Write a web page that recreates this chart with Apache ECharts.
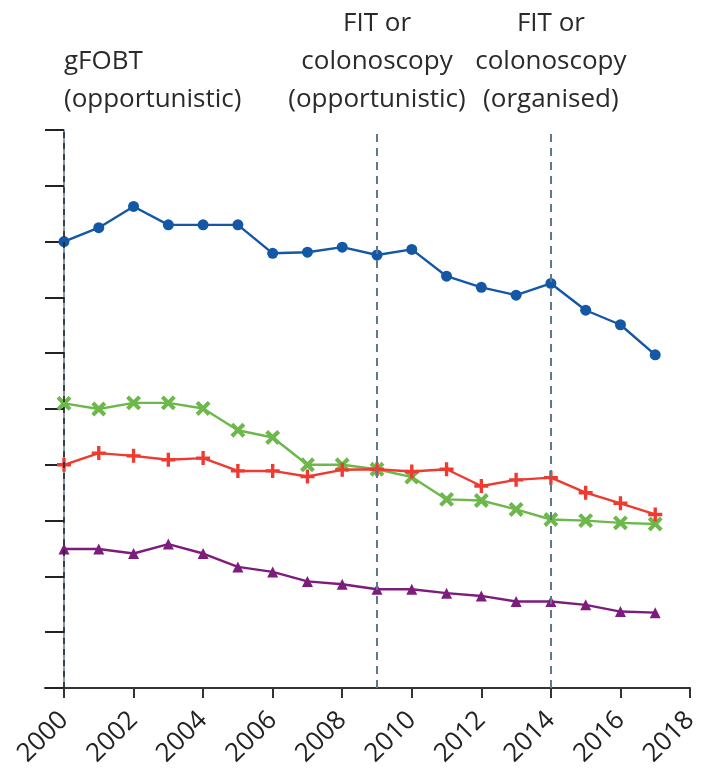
<!DOCTYPE html>
<html>
<head>
<meta charset="utf-8">
<script src="https://cdn.jsdelivr.net/npm/echarts@6/dist/echarts.min.js"></script>
<style>
  html, body { margin: 0; padding: 0; background: #fff; }
  #chart { width: 705px; height: 780px; }
</style>
</head>
<body>
<div id="chart"></div>
<script>
// years and the four series (y axis has no labels: units are tick steps)
const years = [2000, 2001, 2002, 2003, 2004, 2005, 2006, 2007, 2008, 2009,
               2010, 2011, 2012, 2013, 2014, 2015, 2016, 2017];
const blueVals   = [8.00, 8.25, 8.63, 8.30, 8.30, 8.30, 7.79, 7.81, 7.90, 7.76,
                    7.86, 7.38, 7.18, 7.04, 7.25, 6.77, 6.51, 5.97];
const greenVals  = [5.10, 5.00, 5.11, 5.11, 5.01, 4.62, 4.49, 4.00, 4.00, 3.92,
                    3.78, 3.38, 3.36, 3.20, 3.02, 3.00, 2.96, 2.94];
const redVals    = [4.00, 4.21, 4.16, 4.09, 4.12, 3.89, 3.89, 3.79, 3.91, 3.92,
                    3.88, 3.92, 3.62, 3.73, 3.77, 3.50, 3.31, 3.11];
const purpleVals = [2.49, 2.49, 2.41, 2.58, 2.41, 2.17, 2.08, 1.91, 1.86, 1.77,
                    1.77, 1.70, 1.65, 1.55, 1.55, 1.49, 1.37, 1.35];

const xTicks = [2000, 2002, 2004, 2006, 2008, 2010, 2012, 2014, 2016, 2018];
const yTicks = [0, 1, 2, 3, 4, 5, 6, 7, 8, 9, 10];

// screening programme changes
const periods = [
  { year: 2000, text: 'gFOBT\n(opportunistic)' },
  { year: 2009, text: 'FIT or\ncolonoscopy\n(opportunistic)' },
  { year: 2014, text: 'FIT or\ncolonoscopy\n(organised)' }
];

const FONT = '"Open Sans", "DejaVu Sans", sans-serif';
const plusPath = 'path://M3.8,0H6.2V3.8H10V6.2H6.2V10H3.8V6.2H0V3.8H3.8Z';

const pairs = vals => years.map((y, i) => [y, vals[i]]);

const chartDom = document.getElementById('chart');
const myChart = echarts.init(chartDom, null, { renderer: 'canvas' });

function lineSeries(name, vals, color, symbol, size, rotate) {
  return {
    name: name,
    type: 'line',
    data: pairs(vals),
    symbol: symbol,
    symbolSize: size,
    symbolRotate: rotate || 0,
    showAllSymbol: true,
    lineStyle: { color: color, width: 2.4 },
    itemStyle: { color: color },
    emphasis: { disabled: true },
    z: 3
  };
}

const series = [
  lineSeries('blue', blueVals, '#1457a5', 'circle', 11),
  lineSeries('green', greenVals, '#6cb84b', plusPath, 17, 45),
  lineSeries('red', redVals, '#ee3a30', plusPath, 14),
  lineSeries('purple', purpleVals, '#7d1c7d', 'triangle', 11)
];

// vertical period lines + their captions
series[0].markLine = {
  silent: true,
  symbol: 'none',
  animation: false,
  data: periods.map((p, i) => ({
    xAxis: p.year,
    lineStyle: i === 0
      ? { color: '#222', type: [6, 5], width: 1.5 }
      : { color: '#5c7b88', type: [8, 6], width: 2 },
    label: {
      show: true,
      position: 'end',
      formatter: p.text,
      align: i === 0 ? 'left' : 'center',
      distance: 11,
      color: '#2a2a2a',
      fontFamily: FONT,
      fontSize: 26,
      lineHeight: 38
    }
  }))
};

const option = {
  animation: false,
  backgroundColor: '#fff',
  grid: { left: 45, right: 15, top: 130, bottom: 92, containLabel: false },
  xAxis: {
    type: 'value',
    min: 1999.4537,
    max: 2018,
    axisLine: { show: true, lineStyle: { color: '#333', width: 2 } },
    axisTick: { show: true, customValues: xTicks, length: 10, lineStyle: { color: '#333', width: 2 } },
    axisLabel: {
      show: true,
      customValues: xTicks,
      rotate: 45,
      margin: 28,
      color: '#222',
      fontFamily: FONT,
      fontSize: 26,
      formatter: v => String(v)
    },
    splitLine: { show: false }
  },
  yAxis: {
    type: 'value',
    min: 0,
    max: 10,
    interval: 1,
    offset: -19,
    axisLine: { show: true, lineStyle: { color: '#5c7b88', width: 1.5 } },
    axisTick: { show: true, customValues: yTicks, length: 19, lineStyle: { color: '#222', width: 2 } },
    axisLabel: { show: false },
    splitLine: { show: false }
  },
  series: series
};

myChart.setOption(option);
</script>
</body>
</html>
